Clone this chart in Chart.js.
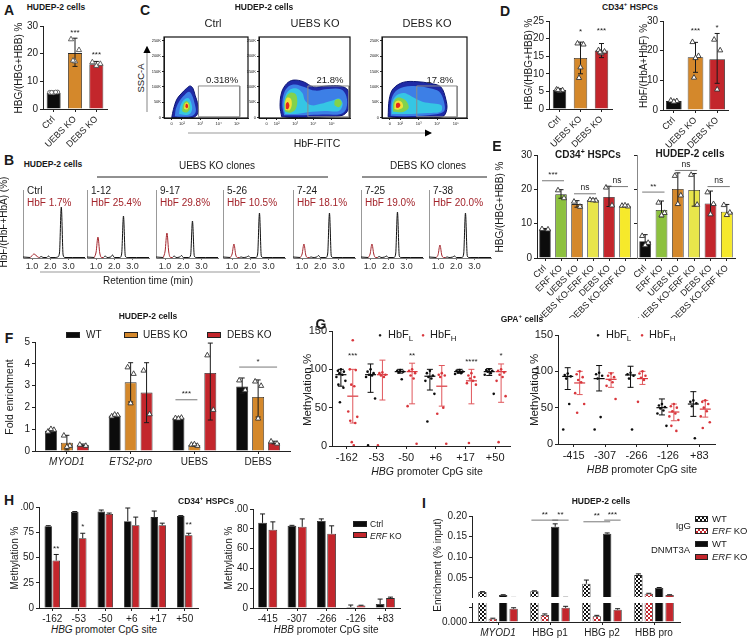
<!DOCTYPE html>
<html>
<head>
<meta charset="utf-8">
<script src="https://cdn.jsdelivr.net/npm/chart.js@4.4.1/dist/chart.umd.min.js"></script>
<style>
body{margin:0;width:747px;height:639px;position:relative;overflow:hidden;background:#fff;font-family:'Liberation Sans',Arial,sans-serif;color:#1a1a1a}
canvas{position:absolute}
.t{position:absolute;white-space:nowrap;transform:translate(-50%,-50%);line-height:1}
.bx{position:absolute}
svg{position:absolute;left:0;top:0}
</style>
</head>
<body>
<svg width="747" height="639">
  <defs><marker id="ah" markerWidth="6" markerHeight="6" refX="5" refY="3" orient="auto"><path d="M0,0 L6,3 L0,6 z" fill="#000"/></marker></defs>
  <line x1="97" y1="177" x2="328" y2="177" stroke="#222" stroke-width="1"/>
  <line x1="362" y1="177" x2="487" y2="177" stroke="#222" stroke-width="1"/>
  <line x1="40" y1="272" x2="260" y2="272" stroke="#999" stroke-width="1.2"/>
  <line x1="147" y1="112" x2="147" y2="47" stroke="#999" stroke-width="1.2" marker-end="url(#ah)"/>
  <line x1="188" y1="133" x2="431" y2="133" stroke="#999" stroke-width="1.2" marker-end="url(#ah)"/>
</svg>
<script>
// ---- A: HBG/(HBG+HBB), HUDEP-2
const aCats = ['Ctrl', 'UEBS KO', 'DEBS KO'];
const aMean = [5.8, 20.2, 16.2];
const aErr = [[5.6, 6.1], [15.4, 25.6], [15.3, 17.2]];
const aPts = [[6.0, 6.1, 5.9, 6.0, 6.1], [25.3, 21.4, 17.3, 17.6], [17.0, 16.4, 15.7]];
const aSig = [{ds: 0, i: 1, v: 26, t: '***'}, {ds: 0, i: 2, v: 18, t: '***'}];

// ---- B: HPLC traces
const rtTimes = [0.5, 0.9, 1.0, 1.1, 1.2, 1.3, 1.4, 1.5, 1.6, 1.8, 1.9, 2.0, 2.3, 2.4, 2.5, 2.6, 2.7, 2.8, 3.2, 3.9];
const bClones = ['Ctrl', '1-12', '9-17', '5-26', '7-24', '7-25', '7-38'];
const bHbF = ['HbF 1.7%', 'HbF 25.4%', 'HbF 29.8%', 'HbF 10.5%', 'HbF 18.1%', 'HbF 19.0%', 'HbF 20.0%'];
const bTrace = [
  [1, 0.5, 2.5, 4, 3, 1, 0.5, 1.5, 0.5, 0.5, 2, 0.5, 0.5, 1, 5, 51, 3, 0.5, 0.5, 0.5],
  [1, 0.5, 6, 21, 5, 0.5, 0.5, 2, 0.5, 1, 3, 0.5, 0.5, 4, 42, 2, 0.5, 0.5, 0.5, 0.5],
  [1, 0.5, 7, 25, 6, 0.5, 0.5, 2, 0.5, 1, 2.5, 0.5, 0.5, 3, 37, 2, 0.5, 0.5, 0.5, 0.5],
  [1, 0.5, 4, 14, 3, 0.5, 0.5, 1, 0.5, 1, 2, 0.5, 0.5, 4, 45, 2, 0.5, 0.5, 0.5, 0.5],
  [1, 0.5, 4, 14, 3, 0.5, 0.5, 1, 0.5, 1, 2.5, 0.5, 0.5, 4, 45, 2, 0.5, 0.5, 0.5, 0.5],
  [1, 0.5, 4, 14, 4, 0.5, 0.5, 1.5, 0.5, 1, 2, 0.5, 0.5, 4, 46, 2, 0.5, 0.5, 0.5, 0.5],
  [1, 0.5, 3.5, 13, 3, 0.5, 0.5, 1, 0.5, 1, 2, 0.5, 0.5, 4, 45, 2, 0.5, 0.5, 0.5, 0.5]
];
const bTicks = [1, 2, 3];

// ---- C: flow plots (x in log decades, y in K)
const cHeads = ['Ctrl', 'UEBS KO', 'DEBS KO'];
const cPct = ['0.318%', '21.8%', '17.8%'];
const cXVals = [1.45, 2, 3, 4, 5];
const cXLab = ['0', '10²', '10³', '10⁴', '10⁵'];
const cYVals = [0, 50, 100, 150, 200, 250];
const cYLab = ['0', '50K', '100K', '150K', '200K', '250K'];
const cGates = [[2.9, 5.15, 3, 103], [3.7, 5.95, 3, 103], [2.9, 5.07, 3, 103]];
const cCtrl = [
  [0, [[1.45, 0], [1.54, 26], [1.73, 60], [2.0, 80], [2.27, 96], [2.45, 103], [2.6, 96], [2.73, 71], [2.85, 49], [2.91, 26], [2.82, 9], [2.63, 1], [2.09, 0]]],
  [1, [[1.62, 5], [1.68, 30], [1.88, 55], [2.15, 74], [2.4, 84], [2.56, 72], [2.7, 45], [2.76, 20], [2.58, 6], [2.1, 3]]],
  [2, [[1.85, 12], [1.92, 38], [2.12, 58], [2.35, 64], [2.5, 50], [2.56, 28], [2.45, 13], [2.2, 9]]],
  [3, [[2.02, 22], [2.07, 42], [2.24, 54], [2.42, 45], [2.44, 28], [2.3, 18], [2.12, 18]]],
  [4, [[2.12, 30], [2.17, 45], [2.3, 49], [2.38, 38], [2.3, 27], [2.2, 27]]],
  [5, [[2.19, 35], [2.23, 45], [2.32, 43], [2.34, 35], [2.27, 31]]]
];
const cUebs = [
  [0, [[2.27, 3], [2.18, 37], [2.27, 83], [2.55, 111], [2.9, 122], [3.45, 117], [4.0, 100], [4.73, 103], [5.46, 103], [5.9, 88], [5.97, 37], [5.64, 9], [4.73, 3], [3.64, 1], [2.73, 1]]],
  [1, [[2.4, 8], [2.3, 40], [2.4, 80], [2.65, 102], [3.0, 108], [3.5, 100], [4.1, 88], [4.8, 93], [5.5, 92], [5.8, 70], [5.8, 30], [5.5, 12], [4.5, 10], [3.5, 8]]],
  [2, [[2.45, 12], [2.38, 40], [2.5, 75], [2.75, 92], [3.1, 95], [3.4, 80], [3.55, 55], [3.9, 40], [4.4, 45], [5.0, 55], [5.4, 62], [5.6, 45], [5.4, 22], [4.6, 22], [3.7, 18], [3.0, 12]]],
  [3, [[2.45, 20], [2.42, 45], [2.55, 72], [2.8, 82], [3.05, 75], [3.12, 50], [3.0, 25], [2.7, 16]]],
  [3, [[5.15, 40], [5.18, 56], [5.42, 60], [5.55, 46], [5.38, 34]]],
  [4, [[2.47, 25], [2.46, 50], [2.56, 65], [2.76, 62], [2.82, 42], [2.7, 24]]],
  [5, [[2.5, 29], [2.5, 45], [2.6, 51], [2.69, 40], [2.62, 28]]]
];
const cDebs = [
  [0, [[1.36, 3], [1.42, 60], [1.63, 94], [2.18, 115], [2.91, 117], [3.64, 111], [4.19, 100], [4.46, 60], [4.51, 26], [4.28, 3], [3.27, 0], [2.0, 0]]],
  [1, [[1.5, 6], [1.52, 55], [1.75, 85], [2.2, 100], [2.9, 102], [3.6, 96], [4.1, 85], [4.35, 55], [4.35, 20], [3.5, 8], [2.3, 5]]],
  [2, [[1.55, 12], [1.58, 50], [1.8, 72], [2.2, 80], [2.6, 70], [3.2, 52], [3.8, 46], [4.22, 40], [4.2, 20], [3.5, 15], [2.6, 12]]],
  [3, [[1.62, 20], [1.65, 50], [1.85, 65], [2.15, 62], [2.4, 48], [2.45, 30], [2.1, 18]]],
  [4, [[1.7, 28], [1.72, 48], [1.9, 56], [2.1, 50], [2.15, 34], [1.9, 26]]],
  [5, [[1.78, 33], [1.8, 46], [1.95, 48], [2.02, 40], [1.92, 32]]]
];

// ---- D: CD34+ HSPCs
const dCats = ['Ctrl', 'UEBS KO', 'DEBS KO'];
const dHbg = [5.4, 14.5, 16.6];
const dHbgErr = [[5.1, 5.8], [10.0, 19.0], [14.6, 18.6]];
const dHbgPts = [[5.6, 5.4, 5.2, 5.5], [18.7, 18.4, 11.9, 8.9], [16.8, 16.4, 15.9, 16.2]];
const dHbgSig = [{ds: 0, i: 1, v: 20.7, t: '*'}, {ds: 0, i: 2, v: 21, t: '***'}];
const dHbf = [3.0, 17.8, 17.1];
const dHbfErr = [[2.7, 3.3], [12.7, 22.8], [9.0, 25.8]];
const dHbfPts = [[3.3, 3.1, 2.9], [23.0, 18.3, 17.6, 11.0], [23.8, 20.2, 7.0]];
const dHbfSig = [{ds: 0, i: 1, v: 25.3, t: '***'}, {ds: 0, i: 2, v: 26.3, t: '*'}];

// ---- E: ERF KO combos
const eCats = ['Ctrl', 'ERF KO', 'UEBS KO', 'UEBS KO-ERF KO', 'DEBS KO', 'DEBS KO-ERF KO'];
const eCd34 = [8.4, 18.6, 15.7, 16.9, 17.8, 15.2];
const eCd34Err = [[8.2, 8.6], [17.4, 19.9], [14.8, 16.7], [16.6, 17.2], [15.0, 20.9], [15.0, 15.5]];
const eCd34Pts = [[8.5, 8.4], [19.8, 17.5], [16.5, 15.0], [17.0, 16.8, 16.9], [20.6, 15.4], [15.3, 15.1, 15.4]];
const eCd34Sig = [{a: [0, 0], b: [0, 1], v: 22.5, t: '***'}, {a: [0, 2], b: [0, 3], v: 18.7, t: 'ns'}, {a: [0, 4], b: [0, 5], v: 20.8, t: 'ns'}];
const eHud = [4.9, 14.0, 20.1, 19.8, 15.9, 13.5];
const eHudErr = [[3.6, 6.8], [12.0, 16.6], [15.4, 24.8], [15.1, 24.6], [12.5, 19.5], [12.2, 15.6]];
const eHudPts = [[6.5, 4.5, 3.8], [16.2, 13.2, 12.5], [24.0, 18.3, 15.8], [24.3, 15.6], [19.2, 15.8, 12.8], [15.5, 13.3, 12.6]];
const eHudSig = [{a: [0, 0], b: [0, 1], v: 19.2, t: '**'}, {a: [0, 2], b: [0, 3], v: 25.5, t: 'ns'}, {a: [0, 4], b: [0, 5], v: 20.8, t: 'ns'}];

// ---- F: ChIP fold enrichment
const fCats = ['MYOD1', 'ETS2-pro', 'UEBS', 'DEBS'];
const fWT = [0.93, 1.63, 1.52, 2.96];
const fWTErr = [[0.85, 1.0], [1.58, 1.68], [1.49, 1.55], [2.65, 3.35]];
const fWTPts = [[0.9, 0.98, 1.02], [1.6, 1.65, 1.68], [1.52, 1.54, 1.5], [3.25, 2.8]];
const fUE = [0.38, 3.15, 0.28, 2.48];
const fUEErr = [[0.05, 0.72], [2.25, 4.05], [0.22, 0.33], [1.56, 3.26]];
const fUEPts = [[0.72, 0.25, 0.2], [3.85, 3.55, 2.2], [0.3, 0.25, 0.32], [3.2, 3.0, 1.5]];
const fDE = [0.27, 2.68, 3.58, 0.38];
const fDEErr = [[0.22, 0.32], [1.3, 4.05], [1.42, 4.95], [0.33, 0.45]];
const fDEPts = [[0.3, 0.25], [3.7, 1.7], [4.4, 1.9], [0.45, 0.35]];
const fSig = [{a: [0, 2], b: [1, 2], v: 2.35, t: '***'}, {a: [0, 3], b: [2, 3], v: 3.85, t: '*'}];

// ---- G: GPA+ cells bisulfite
const gSites = ['-162', '-53', '-50', '+6', '+17', '+50'];
const gLMean = [93, 93, 97, 91, 97, 97];
const gLErr = [[78, 100], [70, 107], [95, 100], [73, 100], [95, 100], [92, 101]];
const gLPts = [[100, 98, 97, 95, 93, 90, 85, 80, 76, 57], [100, 97, 95, 93, 92, 90, 62, 1], [99, 98, 97, 96, 87], [98, 95, 92, 90, 88, 85, 68, 32], [99, 98, 97, 96, 95, 94], [100, 99, 98, 97, 95, 93, 68]];
const gHMean = [65, 93, 97, 78, 85, 97];
const gHErr = [[30, 100], [60, 112], [55, 108], [52, 105], [55, 100], [57, 107]];
const gHPts = [[138, 100, 99, 80, 78, 45, 38, 33, 30, 5, 1], [96, 95, 93, 92, 90, 1], [100, 98, 95, 92, 88, 52, 3], [95, 93, 92, 90, 50, 42, 3], [95, 92, 90, 88, 85, 82, 80, 4], [100, 98, 96, 93, 90, 85, 65, 5]];
const gSig = [{ds: 1, i: 0, v: 113, t: '***'}, {ds: 1, i: 2, v: 113, t: '**'}, {ds: 1, i: 4, v: 104, t: '****'}, {ds: 1, i: 5, v: 113, t: '*'}];
const gbSites = ['-415', '-307', '-266', '-126', '+83'];
const gbLMean = [93, 90, 95, 50, 55];
const gbLErr = [[75, 105], [73, 108], [78, 107], [40, 62], [38, 72]];
const gbLPts = [[97, 95, 93, 90, 55, 20], [98, 96, 94, 90, 37, 20], [98, 96, 94, 90, 20], [55, 53, 51, 49, 46, 42, 25], [60, 58, 56, 52, 8]];
const gbHMean = [84, 89, 90, 44, 48];
const gbHErr = [[68, 100], [78, 98], [82, 100], [32, 55], [37, 60]];
const gbHPts = [[100, 96, 92, 88, 85, 70, 55, 43], [97, 94, 92, 88, 85, 80, 62], [100, 97, 94, 91, 88, 58], [55, 52, 50, 45, 42, 38, 33, 25, 18], [60, 58, 55, 50, 45, 38, 30, 22]];

// ---- H: CD34+ HSPCs methylation
const hSites = ['-162', '-53', '-50', '+6', '+17', '+50'];
const hCtrl = [81, 95, 95.5, 86, 90, 91];
const hCtrlErr = [[81, 81.5], [95, 95.5], [95.5, 97], [86, 99], [90, 96], [91, 91.5]];
const hErf = [47, 69, 93, 82, 82, 72];
const hErfErr = [[47, 53], [69, 74], [93, 94], [82, 90], [82, 84], [72, 74]];
const hSig = [{ds: 1, i: 0, v: 55, t: '**'}, {ds: 1, i: 1, v: 76, t: '*'}, {ds: 1, i: 5, v: 78, t: '**'}];
const hbSites = ['-415', '-307', '-266', '-126', '+83'];
const hbCtrl = [86, 83, 88, 1, 4];
const hbCtrlErr = [[86, 95], [83, 83.5], [88, 90], [1, 3], [4, 9]];
const hbErf = [79, 82, 75, 2.5, 10];
const hbErfErr = [[79, 87], [82, 90], [75, 83], [2.5, 2.8], [10, 11]];

// ---- I: DNMT3A ChIP
const iCats = ['MYOD1', 'HBG p1', 'HBG p2', 'HBB pro'];
const iIgGWT = [0.016, 0.018, 0.036, 0.057];
const iIgGWTHi = [0.017, 0.019, 0.045, 0.06];
const iIgGKO = [0.0007, 0.0015, 0.0012, 0.012];
const iIgGKOHi = [0.0008, 0.0017, 0.0014, 0.013];
const iDnWT = [0.009, 0.174, 0.157, 0.026];
const iDnWTHi = [0.0095, 0.181, 0.159, 0.027];
const iDnKO = [0.0028, 0.003, 0.0026, 0.009];
const iDnKOHi = [0.003, 0.0033, 0.0028, 0.0095];
const iSig = [{a: [0, 1], b: [2, 1], v: 0.19, t: '**'}, {a: [2, 1], b: [3, 1], v: 0.19, t: '**'}, {a: [0, 2], b: [2, 2], v: 0.186, t: '**'}, {a: [2, 2], b: [3, 2], v: 0.19, t: '***'}];

// ---------------------------------------------------------------
const K = '#0c0c0c', ORA = '#d4882b', RED = '#c3262c', GRN = '#8dc13f', YL1 = '#e8e54b', YL2 = '#f6e92b';
const GRED = '#d8363c', BRED = '#a4252c', AX = '#222';
const FLOW = ['#1f2aa6', '#3d7fe6', '#35c6e4', '#82d24c', '#f0e23a', '#e4261f'];
const JIT = [-3, 3, 0, -1.5, 1.5, -4, 4];
const GJIT = [0, -3, 3, -1.5, 1.5, -4.5, 4.5, -2.5, 2.5, -1, 1];
const FONT = "'Liberation Sans', Arial, sans-serif";

Chart.defaults.font.family = FONT;
Chart.defaults.color = '#1a1a1a';
Chart.defaults.animation = false;
Chart.defaults.responsive = false;
Chart.defaults.plugins.legend.display = false;
Chart.defaults.plugins.tooltip.enabled = false;
Chart.defaults.elements.point.radius = 0;

function mark(ctx, type, x, y, col) {
  ctx.lineWidth = 0.9;
  ctx.strokeStyle = col;
  ctx.fillStyle = col;
  ctx.beginPath();
  if (type === 'dot') { ctx.arc(x, y, 1.3, 0, Math.PI * 2); ctx.fill(); return; }
  if (type === 'circ') ctx.arc(x, y, 2, 0, Math.PI * 2);
  else { ctx.moveTo(x, y - 2.8); ctx.lineTo(x + 2.6, y + 1.8); ctx.lineTo(x - 2.6, y + 1.8); ctx.closePath(); }
  ctx.fillStyle = '#fff';
  ctx.fill();
  ctx.stroke();
}

// error bars, means, points, significance marks
const extras = {
  id: 'extras',
  afterDatasetsDraw(chart, args, o) {
    const ctx = chart.ctx, ys = chart.scales.y, a = chart.chartArea;
    const top = o.clipTop === undefined ? 14 : o.clipTop;
    ctx.save();
    ctx.beginPath();
    ctx.rect(a.left - 12, a.top - top, a.right - a.left + 24, a.bottom - a.top + top);
    ctx.clip();
    chart.data.datasets.forEach((ds, i) => {
      chart.getDatasetMeta(i).data.forEach((el, j) => {
        const x = el.x;
        if (ds.meanW) {
          const y = ys.getPixelForValue(ds.data[j]);
          ctx.strokeStyle = ds.lineCol; ctx.lineWidth = 1.2;
          ctx.beginPath(); ctx.moveTo(x - ds.meanW / 2, y); ctx.lineTo(x + ds.meanW / 2, y); ctx.stroke();
        }
        if (ds.err && ds.err[j]) {
          const lo = ys.getPixelForValue(ds.err[j][0]), hi = ys.getPixelForValue(ds.err[j][1]);
          const c = ds.capW || 5;
          ctx.strokeStyle = ds.errCol || '#1a1a1a'; ctx.lineWidth = 1;
          ctx.beginPath();
          ctx.moveTo(x, lo); ctx.lineTo(x, hi);
          ctx.moveTo(x - c / 2, hi); ctx.lineTo(x + c / 2, hi);
          if (ds.err[j][0] < ds.data[j]) { ctx.moveTo(x - c / 2, lo); ctx.lineTo(x + c / 2, lo); }
          ctx.stroke();
        }
        if (ds.pts && ds.pts[j]) {
          const type = Array.isArray(ds.marker) ? ds.marker[j] : ds.marker;
          ds.pts[j].forEach((v, k) => {
            const dx = ds.jit ? ds.jit[k % ds.jit.length] : 0;
            mark(ctx, type || 'tri', x + dx, ys.getPixelForValue(v), ds.ptCol || '#333');
          });
        }
      });
    });
    ctx.restore();
    if (o.frame) {
      ctx.save(); ctx.strokeStyle = '#111'; ctx.lineWidth = 1.2;
      ctx.strokeRect(a.left, a.top, a.right - a.left, a.bottom - a.top); ctx.restore();
    }
    (o.sig || []).forEach(s => {
      const y = ys.getPixelForValue(s.v);
      ctx.save();
      ctx.fillStyle = '#222'; ctx.strokeStyle = '#555'; ctx.lineWidth = 0.8;
      ctx.font = (s.t === 'ns' ? 8.5 : 8) + 'px ' + FONT;
      ctx.textAlign = 'center'; ctx.textBaseline = 'bottom';
      if (s.a) {
        const xa = chart.getDatasetMeta(s.a[0]).data[s.a[1]].x - 3;
        const xb = chart.getDatasetMeta(s.b[0]).data[s.b[1]].x + 3;
        ctx.beginPath(); ctx.moveTo(xa, y); ctx.lineTo(xb, y); ctx.stroke();
        ctx.fillText(s.t, (xa + xb) / 2, y - 1.5);
      } else {
        ctx.fillText(s.t, chart.getDatasetMeta(s.ds).data[s.i].x, y);
      }
      ctx.restore();
    });
  }
};

function merge(a, b) {
  for (const k in b) {
    if (b[k] && typeof b[k] === 'object' && !Array.isArray(b[k]) && a[k] && typeof a[k] === 'object') merge(a[k], b[k]);
    else a[k] = b[k];
  }
  return a;
}
function axis(extra) {
  return merge({
    grid: {drawOnChartArea: false, drawTicks: true, tickLength: 3, color: AX, lineWidth: 1, offset: false},
    border: {color: AX, width: 1},
    ticks: {color: '#1a1a1a', font: {size: 10}, padding: 2}
  }, extra || {});
}
function fitX(h) { return s => { s.height = h; s.paddingLeft = 0; s.paddingRight = 0; }; }
function fitY(w) { return s => { s.width = w; s.paddingTop = 0; s.paddingBottom = 0; }; }

// box = plot area [left, top, right, bottom] in page pixels
function mk(box, yw, xh, cfg, pad) {
  pad = Object.assign({l: 6, t: 14, r: 8, b: 2}, pad || {});
  const W = box[2] - box[0] + yw + pad.l + pad.r;
  const H = box[3] - box[1] + xh + pad.t + pad.b;
  const c = document.createElement('canvas');
  c.width = W; c.height = H;
  c.style.left = (box[0] - yw - pad.l) + 'px';
  c.style.top = (box[1] - pad.t) + 'px';
  document.body.appendChild(c);
  cfg.options.layout = {padding: {left: pad.l, top: pad.t, right: pad.r, bottom: pad.b}};
  cfg.options.scales.x.afterFit = fitX(xh);
  cfg.options.scales.y.afterFit = fitY(yw);
  cfg.plugins = [extras];
  return new Chart(c, cfg);
}
function barChart(box, yw, xh, cats, sets, y, x, ext, pad) {
  return mk(box, yw, xh, {
    type: 'bar',
    data: {labels: cats, datasets: sets},
    options: {scales: {x: axis(x), y: axis(y)}, plugins: {extras: ext || {}}}
  }, pad);
}
function bars(data, color, o) {
  return Object.assign({data, backgroundColor: color, borderColor: '#2a2a2a', borderWidth: 0.8}, o);
}
const rot45 = {ticks: {minRotation: 45, maxRotation: 45, autoSkip: false, font: {size: 9}}};

// ---- A
barChart([43, 26, 107, 109], 20, 45, aCats,
  [bars(aMean, [K, ORA, RED], {barPercentage: 0.82, categoryPercentage: 0.8, err: aErr, pts: aPts,
    marker: ['circ', 'tri', 'tri'], ptCol: '#555', jit: [-4, 4, 0, -2, 2]})],
  {min: 0, max: 30, ticks: {stepSize: 10}}, merge({}, rot45), {sig: aSig});

// ---- B
const bAxisX = [23, 87, 156, 223, 293, 361, 429];
bClones.forEach((name, n) => {
  const ax = bAxisX[n], tr = bTrace[n];
  mk([ax, 190, ax + 62, 258], 0, 14, {
    type: 'line',
    data: {datasets: [
      {data: rtTimes.map((t, i) => ({x: t, y: i >= 1 && i <= 6 ? tr[i] : null})), borderColor: BRED, borderWidth: 1, cubicInterpolationMode: 'monotone'},
      {data: rtTimes.map((t, i) => ({x: t, y: i <= 1 || i >= 6 ? tr[i] : null})), borderColor: '#111', borderWidth: 1, cubicInterpolationMode: 'monotone'}
    ]},
    options: {scales: {
      x: axis({type: 'linear', min: 0.5, max: 3.9, afterBuildTicks: s => { s.ticks = bTicks.map(v => ({value: v})); },
        ticks: {callback: v => v.toFixed(1), font: {size: 9}, color: '#333', padding: 1}, grid: {tickLength: 2, color: '#777'}, border: {color: '#777'}}),
      y: axis({min: 0, max: 68, ticks: {display: false}, grid: {display: false}, border: {color: '#999'}})
    }, plugins: {extras: {}}}
  }, {l: 0, t: 2, r: 4, b: 2});
});

// ---- C
function flow(box, xmax, levels, gate) {
  const sets = [{
    data: [[gate[0], gate[2]], [gate[0], gate[3]], [gate[1], gate[3]], [gate[1], gate[2]], [gate[0], gate[2]]].map(p => ({x: p[0], y: p[1]})),
    borderColor: '#8a8a8a', borderWidth: 1, tension: 0, order: -1
  }];
  levels.forEach((lv, k) => sets.push({
    data: lv[1].concat([lv[1][0]]).map(p => ({x: p[0], y: p[1]})),
    backgroundColor: FLOW[lv[0]], borderColor: lv[0] === 0 ? '#0b1470' : FLOW[lv[0]],
    borderWidth: lv[0] === 0 ? 1 : 0, fill: 'shape', tension: 0.35, order: 20 - k
  }));
  mk(box, 14, 9, {
    type: 'line', data: {datasets: sets},
    options: {scales: {
      x: axis({type: 'linear', min: 1.03, max: xmax, afterBuildTicks: s => { s.ticks = cXVals.map(v => ({value: v})); },
        ticks: {font: {size: 4}, padding: 1, callback: (v, i) => cXLab[i]}, grid: {tickLength: 2}}),
      y: axis({min: -1, max: 262, afterBuildTicks: s => { s.ticks = cYVals.map(v => ({value: v})); },
        ticks: {font: {size: 4}, padding: 1, callback: (v, i) => cYLab[i]}, grid: {tickLength: 2}})
    }, plugins: {extras: {frame: true}}}
  }, {l: 2, t: 4, r: 4, b: 2});
}
flow([164, 37, 248, 118], 5.6, cCtrl, cGates[0]);
flow([259, 37, 350, 118], 6.0, cUebs, cGates[1]);
flow([382, 37, 467, 118], 5.6, cDebs, cGates[2]);

// ---- D
barChart([549, 21, 612, 109], 16, 45, dCats,
  [bars(dHbg, [K, ORA, RED], {barPercentage: 0.8, categoryPercentage: 0.8, err: dHbgErr, pts: dHbgPts, jit: JIT})],
  {min: 0, max: 25, ticks: {stepSize: 5}}, merge({}, rot45), {sig: dHbgSig}, {t: 8});
barChart([663, 21, 728, 110], 16, 45, dCats,
  [bars(dHbf, [K, ORA, RED], {barPercentage: 0.85, categoryPercentage: 0.85, err: dHbfErr, pts: dHbfPts, jit: JIT})],
  {min: 0, max: 30, ticks: {stepSize: 10}}, merge({}, rot45), {sig: dHbfSig}, {t: 8, r: 6});

// ---- E
const eColors = [K, GRN, ORA, YL1, RED, YL2];
barChart([537, 155, 633, 258], 16, 60, eCats,
  [bars(eCd34, eColors, {barPercentage: 0.9, categoryPercentage: 0.8, err: eCd34Err, pts: eCd34Pts, jit: JIT})],
  {min: 0, max: 30, ticks: {stepSize: 10}}, merge({}, rot45), {sig: eCd34Sig});
barChart([637, 155, 735, 258], 6, 60, eCats,
  [bars(eHud, eColors, {barPercentage: 0.9, categoryPercentage: 0.8, err: eHudErr, pts: eHudPts, jit: JIT})],
  {min: 0, max: 30, ticks: {stepSize: 10, callback: () => ''}, border: {color: '#888'}}, merge({}, rot45), {sig: eHudSig}, {r: 4});

// ---- F
const fOpt = {barPercentage: 0.75, categoryPercentage: 0.75, jit: JIT};
barChart([35, 342, 290, 451], 14, 20, fCats, [
  bars(fWT, K, Object.assign({err: fWTErr, pts: fWTPts}, fOpt)),
  bars(fUE, ORA, Object.assign({err: fUEErr, pts: fUEPts}, fOpt)),
  bars(fDE, RED, Object.assign({err: fDEErr, pts: fDEPts}, fOpt))
], {min: 0, max: 5, ticks: {stepSize: 1}},
  {ticks: {font: c => ({size: 10, style: c.index <= 1 ? 'italic' : 'normal'})}}, {sig: fSig});

// ---- G
function dotSets(lm, le, lp, hm, he, hp, cp) {
  const base = {backgroundColor: 'rgba(0,0,0,0)', borderWidth: 0, barPercentage: 1, categoryPercentage: cp,
    meanW: 11, capW: 6, marker: 'dot', jit: GJIT};
  return [
    Object.assign({data: lm, err: le, pts: lp, lineCol: K, errCol: K, ptCol: K}, base),
    Object.assign({data: hm, err: he, pts: hp, lineCol: GRED, errCol: '#e0575c', ptCol: GRED}, base)
  ];
}
barChart([332, 331, 510, 446], 24, 16, gSites, dotSets(gLMean, gLErr, gLPts, gHMean, gHErr, gHPts, 0.8),
  {min: 0, max: 150, ticks: {stepSize: 50, font: {size: 11}}}, {ticks: {font: {size: 11}}}, {sig: gSig});
barChart([558, 335, 715, 444], 24, 16, gbSites, dotSets(gbLMean, gbLErr, gbLPts, gbHMean, gbHErr, gbHPts, 0.76),
  {min: 0, max: 150, ticks: {stepSize: 50, font: {size: 11}}}, {ticks: {font: {size: 11}}}, {});

// ---- H
barChart([39, 507, 198, 608], 18, 14, hSites, [
  bars(hCtrl, K, {barPercentage: 0.95, categoryPercentage: 0.6, err: hCtrlErr}),
  bars(hErf, RED, {barPercentage: 0.95, categoryPercentage: 0.6, err: hErfErr})
], {min: 0, max: 100, ticks: {stepSize: 25}}, {}, {sig: hSig});
barChart([253, 509, 400, 608], 18, 14, hbSites, [
  bars(hbCtrl, K, {barPercentage: 0.85, categoryPercentage: 0.7, err: hbCtrlErr}),
  bars(hbErf, RED, {barPercentage: 0.85, categoryPercentage: 0.7, err: hbErfErr})
], {min: 0, max: 100, ticks: {stepSize: 20}}, {}, {});

// ---- I (broken axis: two stacked charts)
function hatch(col) {
  const p = document.createElement('canvas');
  p.width = p.height = 4;
  const g = p.getContext('2d');
  g.fillStyle = '#fff'; g.fillRect(0, 0, 4, 4);
  g.fillStyle = col; g.fillRect(0, 0, 2, 2); g.fillRect(2, 2, 2, 2);
  return g.createPattern(p, 'repeat');
}
function iSets() {
  const o = {barPercentage: 0.8, categoryPercentage: 0.8, capW: 5};
  const up = (v, hi) => v.map((x, i) => [x, hi[i]]);
  return [
    bars(iIgGWT, hatch('#111'), Object.assign({err: up(iIgGWT, iIgGWTHi)}, o)),
    bars(iIgGKO, hatch(RED), Object.assign({err: up(iIgGKO, iIgGKOHi)}, o)),
    bars(iDnWT, K, Object.assign({err: up(iDnWT, iDnWTHi)}, o)),
    bars(iDnKO, RED, Object.assign({err: up(iDnKO, iDnKOHi)}, o))
  ];
}
barChart([472, 516, 680, 597], 30, 0, iCats, iSets(),
  {min: 0.004, max: 0.2, afterBuildTicks: s => { s.ticks = [0.05, 0.1, 0.15, 0.2].map(v => ({value: v})); },
    ticks: {callback: v => v.toFixed(2)}},
  {display: false}, {sig: iSig}, {t: 8});
barChart([472, 603, 680, 622], 30, 16, iCats, iSets(),
  {min: 0, max: 0.004, afterBuildTicks: s => { s.ticks = [0, 0.001, 0.002, 0.003, 0.004].map(v => ({value: v})); },
    ticks: {callback: v => (v === 0 || v === 0.004) ? v.toFixed(3) : ''}},
  {ticks: {font: c => ({size: 10, style: c.index === 0 ? 'italic' : 'normal'})}}, {clipTop: 0}, {t: 6});

// ---------------------------------------------------------------
// text
function L(html, x, y, size, st) {
  const d = document.createElement('div');
  d.className = 't';
  d.innerHTML = html;
  d.style.left = x + 'px';
  d.style.top = y + 'px';
  d.style.fontSize = size + 'px';
  if (st) Object.assign(d.style, st);
  document.body.appendChild(d);
}
function box(x, y, w, h, bg) {
  const d = document.createElement('div');
  d.className = 'bx';
  d.style.cssText = `left:${x}px;top:${y}px;width:${w}px;height:${h}px;background:${bg};box-sizing:border-box;border:0.8px solid #222`;
  document.body.appendChild(d);
}
const BOLD = {fontWeight: 'bold'};
const LEFT = {transform: 'translate(0,-50%)'};
const RIGHT = {transform: 'translate(-100%,-50%)'};
const ROT = {transform: 'translate(-50%,-50%) rotate(-90deg)'};

[['A', 9, 10], ['B', 9, 160], ['C', 145, 10], ['D', 505, 11], ['E', 497, 146], ['F', 9, 338], ['G', 321, 324], ['H', 9, 500], ['I', 424, 503]]
  .forEach(p => L(p[0], p[1], p[2], 14, BOLD));

L('HUDEP-2 cells', 56, 7, 8.5, BOLD);
L('HUDEP-2 cells', 264, 7, 8.5, BOLD);
L('CD34<sup style="font-size:6px">+</sup> HSPCs', 630, 6, 8.5, BOLD);
L('CD34<sup style="font-size:7px">+</sup> HSPCs', 588, 154, 10, BOLD);
L('HUDEP-2 cells', 690, 154, 10, BOLD);
L('HUDEP-2 cells', 53, 164, 8.5, BOLD);
L('HUDEP-2 cells', 148, 316, 8.5, BOLD);
L('GPA<sup style="font-size:6px">+</sup> cells', 522, 318, 8.5, BOLD);
L('CD34<sup style="font-size:6px">+</sup> HSPCs', 206, 500, 8.5, BOLD);
L('HUDEP-2 cells', 601, 501, 8.5, BOLD);

// axis titles
L('HBG/(HBG+HBB) %', 19, 68, 10, ROT);
L('HBG/(HBG+HBB) %', 529, 64, 10, ROT);
L('HbF/(HbA+HbF) %', 644, 66, 10, ROT);
L('HBG/(HBG+HBB) %', 500, 207, 10, ROT);
L('HbF/(HbF+HbA) (%)', 4, 222, 10, ROT);
L('Fold enrichment', 9, 397, 10.5, ROT);
L('Methylation %', 308, 390, 11.5, ROT);
L('Methylation %', 535, 390, 11.5, ROT);
L('Methylation %', 15, 558, 10, ROT);
L('Methylation %', 229, 558, 10, ROT);
L('Enrichment (% input)', 438, 565, 10, ROT);
L('SSC-A', 141, 78, 9.5, ROT);
L('Retention time (min)', 148, 281, 10);
L('HbF-FITC', 317, 143, 10.5);
L('<i>HBG</i> promoter CpG site', 427, 471, 10.5);
L('<i>HBB</i> promoter CpG site', 642, 469, 10.5);
L('<i>HBG</i> promoter CpG site', 104, 630, 10);
L('<i>HBB</i> promoter CpG site', 326, 630, 10);

// C heads and gate percentages
[[213, 222], [315, 330], [427, 440]].forEach((p, n) => {
  L(cHeads[n], p[0], 23, 11);
  L(cPct[n], p[1], 80, 9.5);
});

// B heads and clone labels
L('UEBS KO clones', 217, 166, 10);
L('DEBS KO clones', 428, 166, 10);
bClones.forEach((name, n) => {
  L(name, bAxisX[n] + 4, 191, 10, LEFT);
  L(bHbF[n], bAxisX[n] + 4, 203, 10, Object.assign({color: BRED}, LEFT));
});

// F legend
box(66, 332, 14, 6, K); L('WT', 86, 335, 10, LEFT);
box(124, 332, 14, 6, ORA); L('UEBS KO', 143, 335, 10, LEFT);
box(207, 332, 14, 6, RED); L('DEBS KO', 227, 335, 10, LEFT);

// G legends
[[380, 423], [598, 642]].forEach(p => {
  L('●', p[0], 335, 6);
  L('HbF<sub style="font-size:8px">L</sub>', p[0] + 8, 336, 11, LEFT);
  L('●', p[1], 335, 6, {color: GRED});
  L('HbF<sub style="font-size:8px">H</sub>', p[1] + 7, 336, 11, LEFT);
});

// H legend
box(353, 521, 14, 6, K); L('Ctrl', 370, 524, 8.5, LEFT);
box(353, 532, 14, 6, RED); L('<i>ERF</i> KO', 370, 536, 8.5, LEFT);

// I legend
const chk = c => `repeating-conic-gradient(${c} 0 25%, #fff 0 50%) 0 0/4px 4px`;
L('IgG', 691, 526, 9.5, RIGHT);
box(695, 516, 13, 6, chk('#111')); L('WT', 712, 519, 9.5, LEFT);
box(695, 528, 13, 6, chk(RED)); L('<i>ERF</i> KO', 712, 531, 9.5, LEFT);
L('DNMT3A', 690, 550, 9.5, RIGHT);
box(695, 541, 13, 6, K); L('WT', 712, 544, 9.5, LEFT);
box(695, 554, 13, 6, RED); L('<i>ERF</i> KO', 712, 557, 9.5, LEFT);
</script>
</body>
</html>
